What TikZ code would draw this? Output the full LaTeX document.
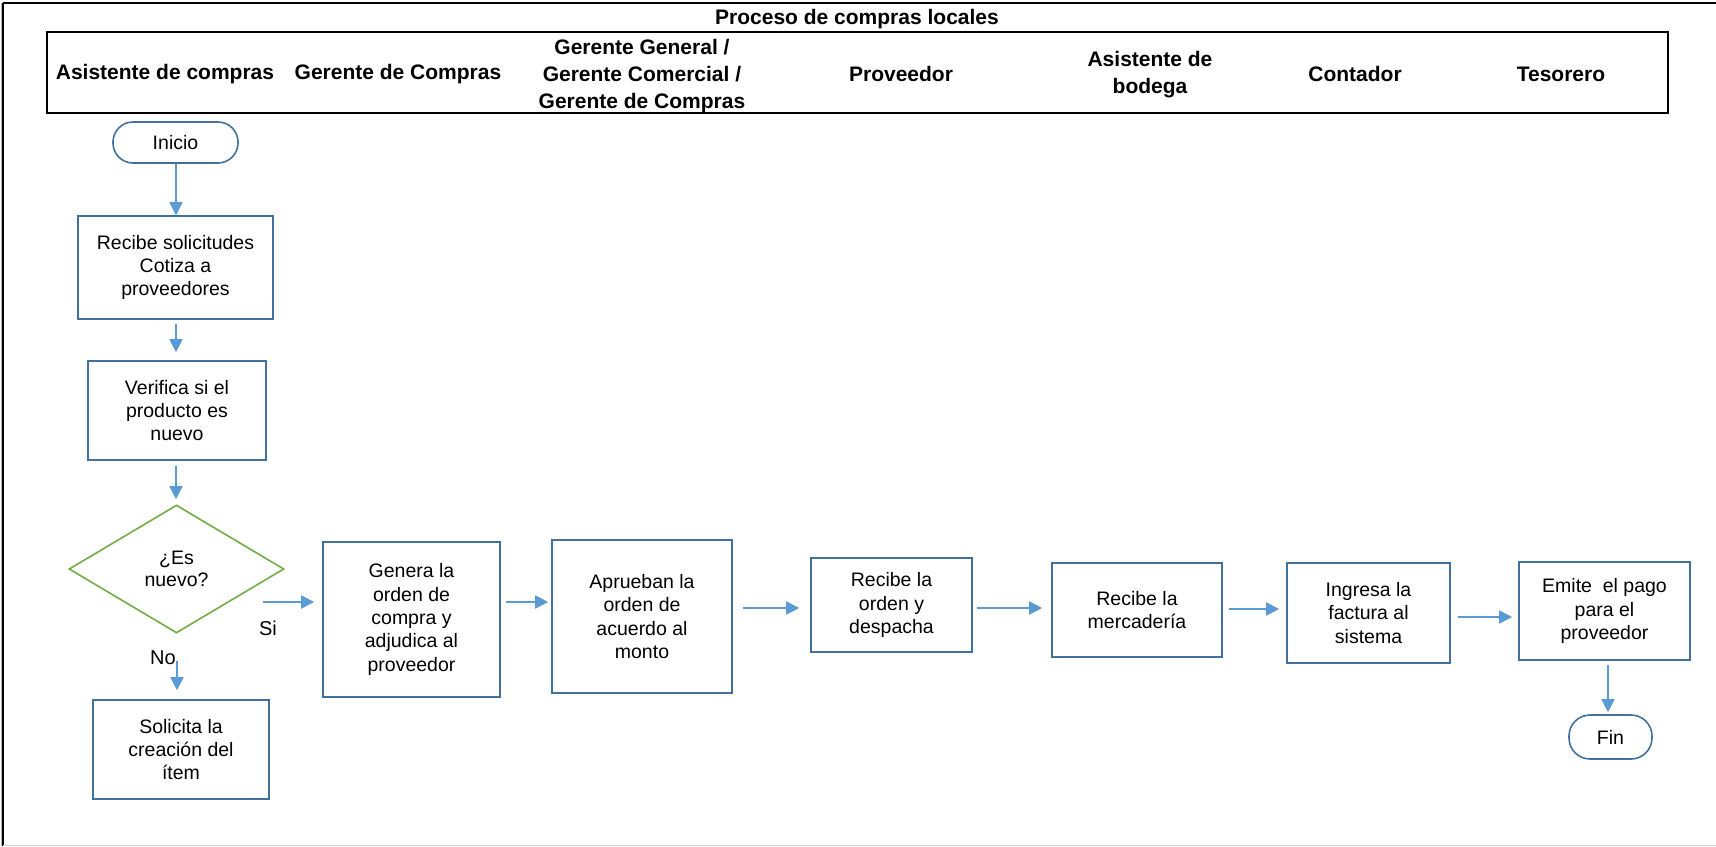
\documentclass[tikz,border=0pt]{standalone}
\usepackage{fontspec}
\setmainfont{Liberation Sans}
\usetikzlibrary{shapes.geometric,arrows.meta,calc}
\definecolor{boxblue}{HTML}{41719C}
\definecolor{arrblue}{HTML}{5B9BD5}
\definecolor{dgreen}{HTML}{70AD47}
\begin{document}
\begin{tikzpicture}[x=1pt,y=-1pt,
  proc/.style={draw=boxblue,line width=1.6pt,align=center,inner sep=2pt,
    font=\fontsize{19.5}{23.3}\selectfont,text=black},
  term/.style={proc,rounded corners=20pt},
  dec/.style={diamond,draw=dgreen,line width=1.6pt,align=center,inner sep=0pt,
    font=\fontsize{19.5}{22}\selectfont},
  arr/.style={draw=arrblue,line width=1.8pt,-{Triangle[length=13pt,width=13pt]}},
  hdr/.style={font=\bfseries\fontsize{21}{27}\selectfont,align=center,inner sep=0pt},
  lbl/.style={font=\fontsize{20}{24}\selectfont,inner sep=0pt}
]
\useasboundingbox (0,0) rectangle (1716,846);
% outer frame
\draw[line width=1.4pt] (3,3) -- (1716,3);
\draw[line width=1.6pt] (3,3) -- (3,846);
\draw[gray!60,line width=0.8pt] (1,3) -- (1,846);
\draw[gray!35,line width=1pt] (3,845) -- (1716,845);
% title
\node[hdr] (title) at (857,19) {Proceso de compras locales};
% header box
\draw[line width=2.4pt] (47,32) rectangle (1668,113);
\node[hdr] (h1) at (165,74) {Asistente de compras};
\node[hdr] (h2) at (398,74) {Gerente de Compras};
\node[hdr] (h3) at (642,76) {Gerente General /\\Gerente Comercial /\\Gerente de Compras};
\node[hdr] (h4) at (901,74) {Proveedor};
\node[hdr] (h5) at (1150,75) {Asistente de\\bodega};
\node[hdr] (h6) at (1355,74) {Contador};
\node[hdr] (h7) at (1561,74) {Tesorero};
% nodes
\node[term,minimum width=125pt,minimum height=41pt] (ini) at (175.5,142.5) {Inicio};
\node[proc,minimum width=195pt,minimum height=103pt] (b1) at (175.5,267.5) {Recibe solicitudes\\Cotiza a\\proveedores};
\node[proc,minimum width=178pt,minimum height=99pt] (b2) at (177,410.5) {Verifica si el\\producto es\\nuevo};
\node[dec,minimum width=215pt,minimum height=128pt] (dia) at (176.5,569) {¿Es\\nuevo?};
\node[proc,minimum width=176pt,minimum height=99pt] (sol) at (181,749.5) {Solicita la\\creación del\\ítem};
\node[proc,minimum width=177pt,minimum height=155pt] (gen) at (411.5,619.5) {Genera la\\orden de\\compra y\\adjudica al\\proveedor};
\node[proc,minimum width=180pt,minimum height=153pt] (apr) at (642,616.5) {Aprueban la\\orden de\\acuerdo al\\monto};
\node[proc,minimum width=161pt,minimum height=94pt] (rec) at (891.5,605) {Recibe la\\orden y\\despacha};
\node[proc,minimum width=170pt,minimum height=94pt] (mer) at (1137,610) {Recibe la\\mercadería};
\node[proc,minimum width=163pt,minimum height=100pt] (ing) at (1368.5,613) {Ingresa la\\factura al\\sistema};
\node[proc,minimum width=171pt,minimum height=98pt] (emi) at (1604.5,611) {Emite\ \ el pago\\para el\\proveedor};
\node[term,rounded corners=21pt,minimum width=83pt,minimum height=44pt] (fin) at (1610.5,737) {Fin};
% labels
\node[lbl] (si) at (268,628) {Si};
\node[lbl] (no) at (163,658) {No};
% connectors
\draw[arr] (ini.south -| 176,0) -- (b1.north -| 176,0);
\draw[arr,shorten <=4pt,shorten >=8pt] (b1.south -| 176,0) -- (b2.north -| 176,0);
\draw[arr,shorten <=5pt,shorten >=5pt] (b2.south -| 176,0) -- (dia.north -| 176,0);
\draw[arr,shorten <=-22pt,shorten >=8pt] (dia.east |- 0,602) -- (gen.west |- 0,602);
\draw[arr,shorten <=27pt,shorten >=9pt] (dia.south -| 177,0) -- (sol.north -| 177,0);
\draw[arr,shorten <=5pt,shorten >=3pt] (gen.east |- 0,602) -- (apr.west |- 0,602);
\draw[arr,shorten <=10pt,shorten >=11pt] (apr.east |- 0,608) -- (rec.west |- 0,608);
\draw[arr,shorten <=4pt,shorten >=9pt] (rec.east |- 0,608) -- (mer.west |- 0,608);
\draw[arr,shorten <=6pt,shorten >=7pt] (mer.east |- 0,609) -- (ing.west |- 0,609);
\draw[arr,shorten <=7pt,shorten >=6pt] (ing.east |- 0,617) -- (emi.west |- 0,617);
\draw[arr,shorten <=4pt,shorten >=2pt] (emi.south -| 1608,0) -- (fin.north -| 1608,0);
\end{tikzpicture}
\end{document}
